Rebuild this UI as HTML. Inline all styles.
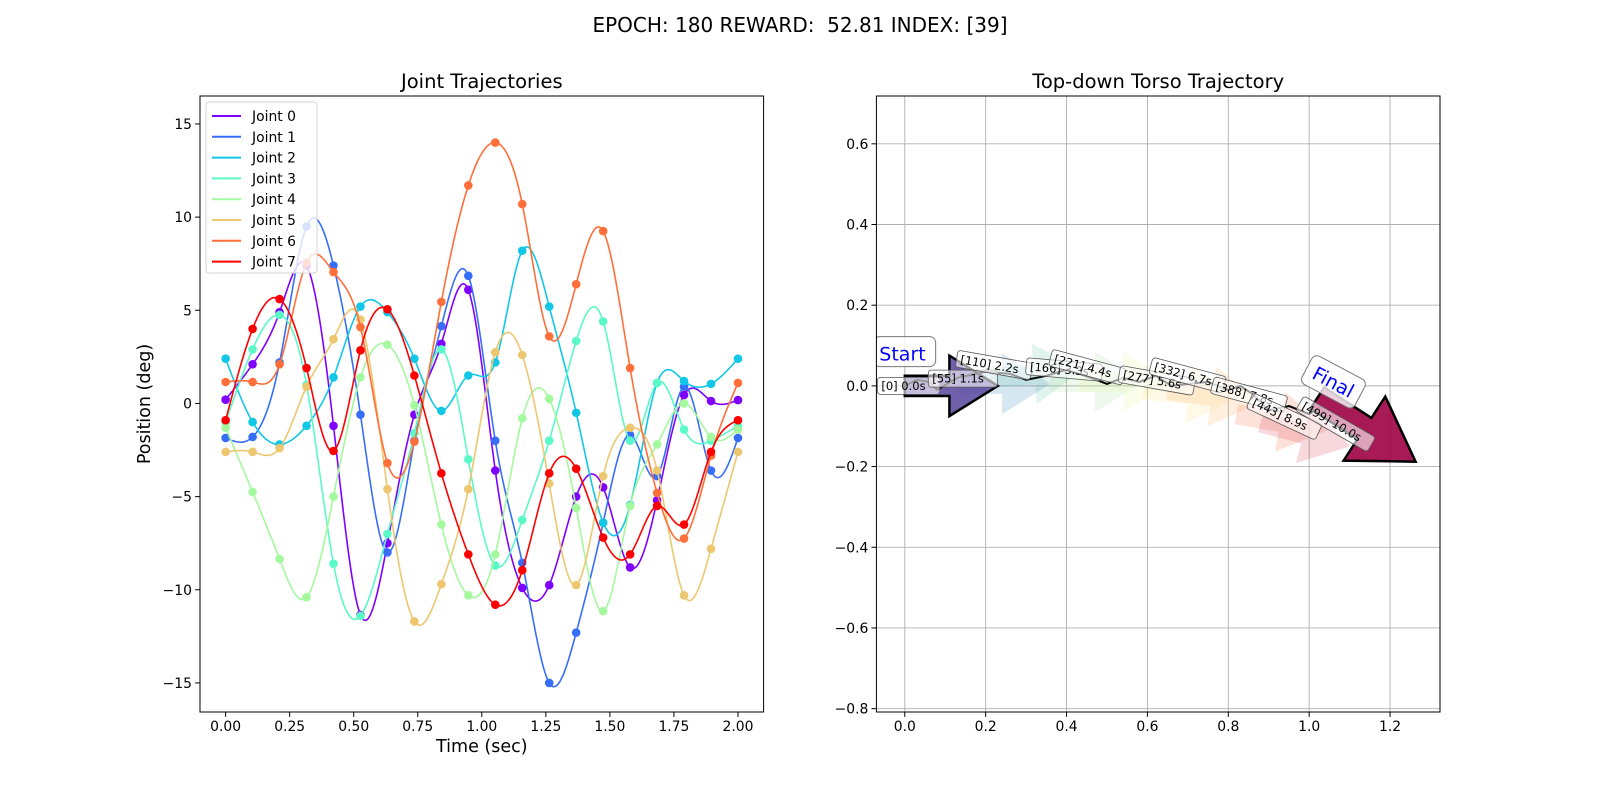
<!DOCTYPE html>
<html><head><meta charset="utf-8">
<style>
html,body{margin:0;padding:0;background:#fff;}
svg{display:block;font-family:"DejaVu Sans","Liberation Sans",sans-serif;}
</style></head>
<body>
<svg id="fig" width="1600" height="800" viewBox="0 0 1600 800" xmlns="http://www.w3.org/2000/svg">
<rect width="1600" height="800" fill="#fff"/>
<text x="800" y="32" font-size="20" text-anchor="middle" style="white-space:pre" xml:space="preserve">EPOCH: 180 REWARD:  52.81 INDEX: [39]</text>
<g id="left"></g>
<g id="right"></g>
</svg>
<script>
const NS="http://www.w3.org/2000/svg";
// ---------- Left chart data ----------
const jointNames=["Joint 0","Joint 1","Joint 2","Joint 3","Joint 4","Joint 5","Joint 6","Joint 7"];
const jointColors=["#8000ff","#376ef9","#12c7e6","#5bf9c7","#a4f99f","#edc76f","#ff6f39","#ff0000"];
const j0=[0.2,2.1,4.9,7.4,-1.2,-11.35,-7.5,-0.6,3.2,6.1,-3.6,-9.9,-9.75,-5.0,-4.5,-8.8,-5.2,0.45,0.13,0.18];
const j1=[-1.85,-1.8,2.2,9.5,7.4,-0.6,-8.0,-2.0,4.15,6.85,-2.0,-8.55,-15.0,-12.3,-6.4,-1.7,-3.9,0.9,-3.6,-1.85];
const j2=[2.4,-1.0,-2.2,-1.2,1.4,5.2,4.9,2.4,-0.4,1.5,2.2,8.2,5.2,-0.5,-6.4,-5.45,1.1,1.2,1.05,2.4];
const j3=[-1.0,2.9,4.75,1.0,-8.6,-11.4,-7.0,-1.6,2.9,-3.0,-8.7,-6.25,-2.0,3.35,4.4,-2.0,1.1,-1.4,-2.0,-1.2];
const j4=[-1.3,-4.75,-8.35,-10.4,-5.0,1.4,3.15,-0.1,-6.5,-10.3,-8.1,-0.8,0.25,-5.6,-11.15,-5.5,-2.2,0.0,-1.8,-1.4];
const j5=[-2.6,-2.6,-2.4,0.9,3.45,4.5,-4.6,-11.7,-9.7,-4.6,2.75,2.6,-4.3,-9.75,-3.9,-1.3,-3.6,-10.3,-7.8,-2.6];
const j6=[1.15,1.15,2.1,7.55,7.05,4.1,-3.2,-2.05,5.45,11.7,14.0,10.7,3.6,6.4,9.25,1.9,-4.8,-7.25,-2.8,1.1];
const j7=[-0.9,4.0,5.6,1.9,-2.55,2.85,5.05,1.5,-3.75,-8.1,-10.8,-8.95,-3.75,-3.5,-7.2,-8.1,-5.5,-6.5,-2.6,-0.9];
const jointSeries=[j0,j1,j2,j3,j4,j5,j6,j7];
const xTicksL=[0,0.25,0.5,0.75,1.0,1.25,1.5,1.75,2.0];
const xTickLabelsL=["0.00","0.25","0.50","0.75","1.00","1.25","1.50","1.75","2.00"];
const yTicksL=[-15,-10,-5,0,5,10,15];
const yTickLabelsL=["\u221215","\u221210","\u22125","0","5","10","15"];
// ---------- Right chart data ----------
const trajX=[0,0.03,0.06,0.08,0.13,0.2,0.26,0.3,0.35,0.4,0.46,0.5,0.54,0.58,0.62,0.66,0.7,0.75,0.8,0.83,0.86,0.9,0.95,1.0,1.03];
const trajY=[0,0.015,0.01,-0.01,0.02,0.035,0.03,0.015,0.025,0.04,0.02,0.005,0.02,0.01,0.025,0.0,0.005,0.01,-0.01,0.0,-0.02,-0.06,-0.05,-0.07,-0.05];
const labelText=["[0] 0.0s","[55] 1.1s","[110] 2.2s","[166] 3.3s","[221] 4.4s","[277] 5.6s","[332] 6.7s","[388] 7.8s","[443] 8.9s","[499] 10.0s"];
const labelX=[-0.058,0.068,0.138,0.31,0.37,0.54,0.618,0.77,0.862,0.985];
const labelY=[0.0,0.018,0.066,0.048,0.068,0.028,0.048,0.0,-0.04,-0.048];
const labelRot=[0,0,10,5,15,10,15,15,25,30];
const arrowX=[0.13,0.21,0.36,0.43,0.59,0.65,0.82,0.88];
const arrowY=[0.005,0.02,0.01,0.01,-0.01,-0.01,-0.07,-0.09];
const arrowAng=[0,5,0,0,-5,-8,-10,-15];
const arrowColors=["#3288bd","#66c2a5","#abdda4","#e6f598","#fee08b","#fdae61","#f46d43","#d53e4f"];
const xTicksR=[0,0.2,0.4,0.6,0.8,1.0,1.2];
const xTickLabelsR=["0.0","0.2","0.4","0.6","0.8","1.0","1.2"];
const yTicksR=[-0.8,-0.6,-0.4,-0.2,0,0.2,0.4,0.6];
const yTickLabelsR=["\u22120.8","\u22120.6","\u22120.4","\u22120.2","0.0","0.2","0.4","0.6"];

function el(tag,attrs,parent){const e=document.createElementNS(NS,tag);for(const k in attrs)e.setAttribute(k,attrs[k]);if(parent)parent.appendChild(e);return e;}

// ---- Left axes ----
const L={x0:200,x1:763.6,y0:96,y1:712,xmin:-0.1,xmax:2.1,ymin:-16.56,ymax:16.5};
const lx=v=>L.x0+(v-L.xmin)/(L.xmax-L.xmin)*(L.x1-L.x0);
const ly=v=>L.y1-(v-L.ymin)/(L.ymax-L.ymin)*(L.y1-L.y0);
const left=document.getElementById('left');
const nPts=20;
const times=[];for(let i=0;i<nPts;i++)times.push(i*2/(nPts-1));
function spline(xs,ys){const n=xs.length;const h=[],a=[],l=[1],mu=[0],z=[0];
 for(let i=0;i<n-1;i++)h.push(xs[i+1]-xs[i]);
 for(let i=1;i<n-1;i++)a[i]=3/h[i]*(ys[i+1]-ys[i])-3/h[i-1]*(ys[i]-ys[i-1]);
 for(let i=1;i<n-1;i++){l[i]=2*(xs[i+1]-xs[i-1])-h[i-1]*mu[i-1];mu[i]=h[i]/l[i];z[i]=(a[i]-h[i-1]*z[i-1])/l[i];}
 const c=new Array(n).fill(0),b=[],d=[];
 for(let j=n-2;j>=0;j--){c[j]=z[j]-mu[j]*c[j+1];b[j]=(ys[j+1]-ys[j])/h[j]-h[j]*(c[j+1]+2*c[j])/3;d[j]=(c[j+1]-c[j])/(3*h[j]);}
 return t=>{let j=Math.min(n-2,Math.max(0,Math.floor((t-xs[0])/h[0])));const dx=t-xs[j];return ys[j]+b[j]*dx+c[j]*dx*dx+d[j]*dx*dx*dx;};}
const clipL=el('clipPath',{id:'clipL'},left);el('rect',{x:L.x0,y:L.y0,width:L.x1-L.x0,height:L.y1-L.y0},clipL);
const plotL=el('g',{'clip-path':'url(#clipL)'},left);
jointSeries.forEach((ser,k)=>{
 const f=spline(times,ser);let d='';
 for(let s=0;s<=300;s++){const t=2*s/300;d+=(s?'L':'M')+lx(t).toFixed(2)+','+ly(f(t)).toFixed(2);}
 const p=el('path',{d:d,fill:'none',stroke:jointColors[k],'stroke-width':1.6},plotL);
 
 
 ser.forEach((v,i)=>{const c=el('circle',{cx:lx(times[i]),cy:ly(v),r:4.3,fill:jointColors[k]},plotL);
  
  });
});
el('rect',{x:L.x0,y:L.y0,width:L.x1-L.x0,height:L.y1-L.y0,fill:'none',stroke:'#000','stroke-width':1},left);
xTicksL.forEach((v,i)=>{const x=lx(v);el('line',{x1:x,x2:x,y1:L.y1,y2:L.y1+4.9,stroke:'#000'},left);
 const t=el('text',{x:x,y:L.y1+19,'font-size':13.9,'text-anchor':'middle'},left);t.textContent=xTickLabelsL[i];
 
 });
yTicksL.forEach((v,i)=>{const y=ly(v);el('line',{x1:L.x0-4.9,x2:L.x0,y1:y,y2:y,stroke:'#000'},left);
 const t=el('text',{x:L.x0-8,y:y+5,'font-size':13.9,'text-anchor':'end'},left);t.textContent=yTickLabelsL[i];
 
 });
let t1=el('text',{x:(L.x0+L.x1)/2,y:88,'font-size':19.5,'text-anchor':'middle'},left);t1.textContent='Joint Trajectories';


let t2=el('text',{x:(L.x0+L.x1)/2,y:752,'font-size':17.5,'text-anchor':'middle'},left);t2.textContent='Time (sec)';


let t3=el('text',{x:150,y:(L.y0+L.y1)/2,'font-size':17.5,'text-anchor':'middle',transform:'rotate(-90 150 '+((L.y0+L.y1)/2)+')'},left);t3.textContent='Position (deg)';


// legend
const lg=el('g',{},left);


el('rect',{x:206,y:102,width:111,height:171,rx:3,fill:'#fff','fill-opacity':0.8,stroke:'#d6d6d6'},lg);
jointNames.forEach((n,k)=>{const y=116+k*20.8;
 el('line',{x1:212,x2:241,y1:y,y2:y,stroke:jointColors[k],'stroke-width':2},lg);
 const t=el('text',{x:252,y:y+5,'font-size':13.9},lg);t.textContent=n;
 
 });

// ---- Right axes ----
const R={x0:876.4,x1:1440,y0:96,y1:712,xmin:-0.0702,xmax:1.3235,ymin:-0.8083,ymax:0.7185};
const rx=v=>R.x0+(v-R.xmin)/(R.xmax-R.xmin)*(R.x1-R.x0);
const ry=v=>R.y1-(v-R.ymin)/(R.ymax-R.ymin)*(R.y1-R.y0);
const right=document.getElementById('right');
const clipR=el('clipPath',{id:'clipR'},right);el('rect',{x:R.x0,y:R.y0,width:R.x1-R.x0,height:R.y1-R.y0},clipR);
const gridG=el('g',{},right);
xTicksR.forEach(v=>el('line',{x1:rx(v),x2:rx(v),y1:R.y0,y2:R.y1,stroke:'#b0b0b0','stroke-width':0.9},gridG));
yTicksR.forEach(v=>el('line',{x1:R.x0,x2:R.x1,y1:ry(v),y2:ry(v),stroke:'#b0b0b0','stroke-width':0.9},gridG));
const plotR=el('g',{'clip-path':'url(#clipR)'},right);
function arrowPath(x,y,ang,len,fill,op,stroke,name){
 const hl=len*0.52,sw=0.025*len/0.23,hw=0.075*len/0.23;
 const pts=[[0,-sw],[len-hl,-sw],[len-hl,-hw],[len,0],[len-hl,hw],[len-hl,sw],[0,sw]];
 const a=ang*Math.PI/180;
 const d=pts.map((p,i)=>{const px=x+p[0]*Math.cos(a)-p[1]*Math.sin(a);const py=y+p[0]*Math.sin(a)+p[1]*Math.cos(a);return (i?'L':'M')+rx(px).toFixed(1)+','+ry(py).toFixed(1);}).join('')+'Z';
 const e=el('path',{d:d,fill:fill,'fill-opacity':op,stroke:stroke||'none','stroke-width':stroke?2.5:0,'stroke-linejoin':'miter'},plotR);
 
 
}
arrowX.forEach((x,i)=>arrowPath(x,arrowY[i],arrowAng[i],0.23,arrowColors[i],0.2,null,'heading-arrow'));
arrowPath(0,0,0,0.23,'#5e4fa2',0.9,'#000','start-arrow');
let dT='';trajX.forEach((x,i)=>{dT+=(i?'L':'M')+rx(x).toFixed(1)+','+ry(trajY[i]).toFixed(1);});
const tp=el('path',{d:dT,fill:'none',stroke:'#000','stroke-width':2},plotR);


arrowPath(1.02,-0.03,-33,0.29,'#9e0142',0.9,'#000','final-arrow');
labelText.forEach((s,i)=>{const x=rx(labelX[i]),y=ry(labelY[i]);
 const g=el('g',{transform:'translate('+x+','+y+') rotate('+labelRot[i]+')'},plotR);
 
 
 const w=s.length*6.8+8;
 el('rect',{x:-4,y:-8.5,width:w,height:17,rx:3,fill:'#fff','fill-opacity':0.6,stroke:'#555','stroke-width':0.8},g);
 const t=el('text',{x:0,y:4,'font-size':11.5},g);t.textContent=s;});
const sg=el('g',{},plotR);


el('rect',{x:rx(-0.077),y:ry(0.122),width:62,height:30,rx:6,fill:'#fff','fill-opacity':0.8,stroke:'#777','stroke-width':1},sg);
let st=el('text',{x:rx(-0.063),y:ry(0.055)-3,'font-size':19,fill:'#0000ff'},sg);st.textContent='Start';
const fg=el('g',{transform:'translate('+rx(1.06)+','+ry(0.01)+') rotate(28)'},plotR);


el('rect',{x:-30,y:-16,width:60,height:32,rx:6,fill:'#fff','fill-opacity':0.8,stroke:'#777','stroke-width':1},fg);
let ft=el('text',{x:0,y:7,'font-size':19,fill:'#0000ff','text-anchor':'middle'},fg);ft.textContent='Final';
el('rect',{x:R.x0,y:R.y0,width:R.x1-R.x0,height:R.y1-R.y0,fill:'none',stroke:'#000','stroke-width':1},right);
xTicksR.forEach((v,i)=>{const x=rx(v);el('line',{x1:x,x2:x,y1:R.y1,y2:R.y1+4.9,stroke:'#000'},right);
 const t=el('text',{x:x,y:R.y1+19,'font-size':13.9,'text-anchor':'middle'},right);t.textContent=xTickLabelsR[i];
 
 });
yTicksR.forEach((v,i)=>{const y=ry(v);el('line',{x1:R.x0-4.9,x2:R.x0,y1:y,y2:y,stroke:'#000'},right);
 const t=el('text',{x:R.x0-8,y:y+5,'font-size':13.9,'text-anchor':'end'},right);t.textContent=yTickLabelsR[i];
 
 });
let t4=el('text',{x:(R.x0+R.x1)/2,y:88,'font-size':19.5,'text-anchor':'middle'},right);t4.textContent='Top-down Torso Trajectory';


</script>
</body></html>
